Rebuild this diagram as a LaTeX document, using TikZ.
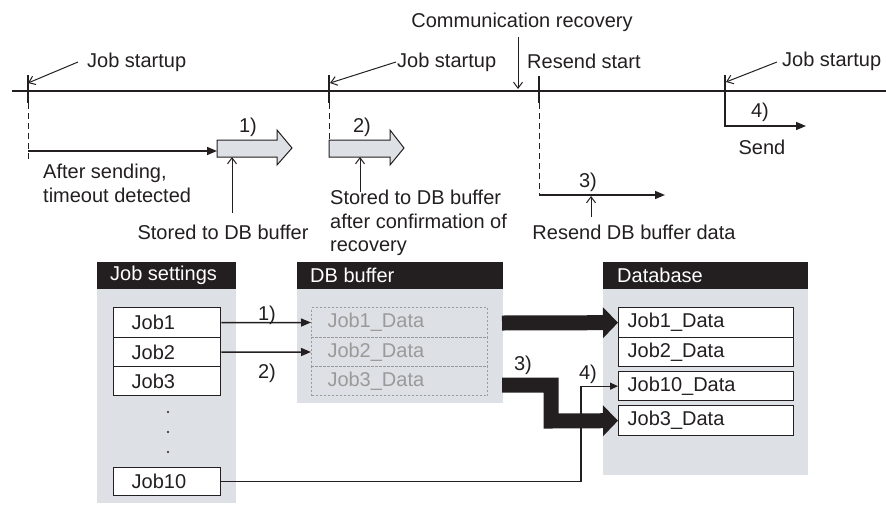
\documentclass[tikz,border=0pt]{standalone}
\usepackage{fontspec}
\setmainfont{Liberation Sans}
\usetikzlibrary{arrows.meta}
\definecolor{panel}{HTML}{DDE0E4}
\definecolor{hdr}{HTML}{231F20}
\definecolor{ghost}{HTML}{9A9A9A}
\definecolor{ink}{HTML}{231F20}
\begin{document}
\begin{tikzpicture}[x=1pt,y=-1pt,
  font=\fontsize{20}{23.5}\selectfont,
  txt/.style={inner sep=0pt, text=ink},
  timeline/.style={line width=2pt, draw=ink},
  tickline/.style={line width=2pt, draw=ink},
  dashline/.style={line width=1pt, draw=ink, dash pattern=on 6pt off 4pt},
  pointer/.style={line width=1pt, draw=ink, -{Straight Barb[length=6pt,width=9pt,line width=1pt]}},
  flow/.style={line width=1.5pt, draw=ink, -{Triangle[length=10pt,width=8pt]}},
  blockarrow/.style={fill=panel, draw=ink, line width=1pt},
  header/.style={fill=hdr, draw=none},
  body/.style={fill=panel, draw=none},
  hdrtext/.style={inner sep=0pt, text=white, anchor=west},
  jobbox/.style={draw=ink, fill=white, line width=1.3pt, anchor=north west, inner xsep=18pt, inner ysep=0pt, text width=71pt, align=left, text=ink},
  ghostbox/.style={draw=ghost, line width=1pt, dash pattern=on 2pt off 2pt, anchor=north west, inner xsep=16pt, inner ysep=0pt, text width=144pt, align=left, text=ghost},
  databox/.style={draw=ink, fill=white, line width=1.3pt, anchor=north west, inner xsep=9pt, inner ysep=0pt, text width=157pt, align=left, text=ink},
  bigarrow/.style={line width=15pt, draw=hdr, line join=miter, -{Triangle[length=15pt,width=30pt]}},
  connarrow/.style={line width=1.5pt, draw=ink, -{Triangle[length=10pt,width=8pt]}}
]
\useasboundingbox (0,0) rectangle (886,504);

% ---------- timeline ----------
\coordinate (tlL) at (12,91);
\coordinate (tlR) at (886,91);
\draw[timeline] (tlL) -- (tlR);

% tick 1
\coordinate (t1top) at (28,75);
\coordinate (t1bot) at (28,103);
\coordinate (t1end) at (28,160);
\draw[tickline] (t1top) -- (t1bot);
\draw[dashline] (t1bot) -- (t1end);
\node[txt, anchor=west] (js1) at (87,62) {Job startup};
\coordinate (js1p) at (28,83);
\draw[pointer] (78,62) -- (js1p);
\coordinate (a1s) at (28,151);
\coordinate (a1e) at (217,151);
\draw[flow] (a1s) -- (a1e);
\draw[blockarrow] (217,140) -- (277,140) -- (277,130) -- (292,148) -- (277,165) -- (277,157) -- (217,157) -- cycle;
\node[txt] (n1) at (248,127) {1)};
\node[txt, anchor=west, align=left] (after) at (43,183.5) {After sending,\\timeout detected};
\node[txt] (stored1) at (223,232) {Stored to DB buffer};
\coordinate (up1) at (232,157);
\draw[pointer] (232,213) -- (up1);

% tick 2
\coordinate (t2top) at (329,75);
\coordinate (t2bot) at (329,103);
\coordinate (t2end) at (329,145);
\draw[tickline] (t2top) -- (t2bot);
\draw[dashline] (t2bot) -- (t2end);
\node[txt, anchor=west] (js2) at (397,62) {Job startup};
\coordinate (js2p) at (330,83);
\draw[pointer] (396,62) -- (js2p);
\draw[blockarrow] (329,140) -- (390,140) -- (390,130) -- (404,148) -- (390,165) -- (390,157) -- (329,157) -- cycle;
\node[txt] (n2) at (362,127) {2)};
\node[txt, anchor=north west, align=left] (stored2) at (330,190) {Stored to DB buffer\\after confirmation of\\recovery};
\coordinate (up2) at (360,157);
\draw[pointer] (360,192) -- (up2);

% communication recovery
\node[txt] (comm) at (522,22) {Communication recovery};
\coordinate (commp) at (518,89);
\draw[pointer] (518,37) -- (commp);

% resend start
\coordinate (t3top) at (539,76);
\coordinate (t3bot) at (539,103);
\coordinate (t3corner) at (539,195);
\coordinate (t3end) at (665,195);
\draw[tickline] (t3top) -- (t3bot);
\draw[dashline] (t3bot) -- (t3corner);
\draw[flow] (t3corner) -- (t3end);
\node[txt, anchor=west] (rs) at (527,61) {Resend start};
\node[txt] (n3) at (588,182) {3)};
\coordinate (up3) at (591,196);
\draw[pointer] (591,217) -- (up3);
\node[txt] (rsdata) at (634,232) {Resend DB buffer data};

% tick 4
\coordinate (t4top) at (725,75);
\coordinate (t4line) at (725,91);
\coordinate (t4corner) at (725,126);
\coordinate (t4end) at (806,126);
\draw[tickline] (t4top) -- (t4line);
\draw[flow] (t4line) -- (t4corner) -- (t4end);
\node[txt, anchor=west] (js4) at (782,61) {Job startup};
\coordinate (js4p) at (726,82);
\draw[pointer] (777,62) -- (js4p);
\node[txt] (n4) at (760,112) {4)};
\node[txt] (send) at (762,147) {Send};

% ---------- panels ----------
\fill[header] (97,262) rectangle (236,289);
\fill[body] (97,289) rectangle (236,503);
\node[hdrtext] (hjs) at (110,275.5) {Job settings};

\fill[header] (297,262) rectangle (503,289);
\fill[body] (297,289) rectangle (503,403);
\node[hdrtext] (hdb) at (310,275.5) {DB buffer};

\fill[header] (603,262) rectangle (808,289);
\fill[body] (603,289) rectangle (808,475);
\node[hdrtext] (hdbase) at (617,275.5) {Database};

% thick arrow waypoints
\coordinate (k1s) at (502,323);
\coordinate (k3s) at (502,385);
\coordinate (k3a) at (551,385);
\coordinate (k3b) at (551,421);

% job boxes
\node[jobbox, minimum height=30pt] (job1) at (113,307) {Job1};
\node[jobbox, minimum height=29pt] (job2) at (113,337) {Job2};
\node[jobbox, minimum height=29pt] (job3) at (113,366) {Job3};
\node[jobbox, minimum height=28pt] (job10) at (113,467) {Job10};
\fill[ink] (168,412) circle (1.2pt) (168,432) circle (1.2pt) (168,452) circle (1.2pt);

% DB buffer boxes
\node[ghostbox, minimum height=30pt] (b1) at (311,307) {Job1\_Data};
\node[ghostbox, minimum height=29pt] (b2) at (311,337) {Job2\_Data};
\node[ghostbox, minimum height=29pt] (b3) at (311,366) {Job3\_Data};

% database boxes
\node[databox, minimum height=30pt] (d1) at (618,307) {Job1\_Data};
\node[databox, minimum height=29pt] (d2) at (618,337) {Job2\_Data};
\node[databox, minimum height=29pt] (d10) at (618,371) {Job10\_Data};
\node[databox, minimum height=30pt] (d3) at (618,405) {Job3\_Data};

\draw[bigarrow] (k1s) -- (d1.west);
\draw[bigarrow] (k3s) -- (k3a) -- (k3b) -- (d3.west);

% connectors
\draw[connarrow] (job1.east) -- (b1.west);
\draw[connarrow] (job2.east) -- (b2.west);
\node[txt] (l1) at (267,315) {1)};
\node[txt] (l2) at (267,373) {2)};
\node[txt] (l3) at (523,365) {3)};
\node[txt] (l4) at (588,374) {4)};
\coordinate (c4) at (581,0);
\draw[line width=1.2pt, draw=ink, -{Triangle[length=8pt,width=7pt]}] (job10.east) -| (c4 |- d10.west) -- (d10.west);
\end{tikzpicture}
\end{document}
